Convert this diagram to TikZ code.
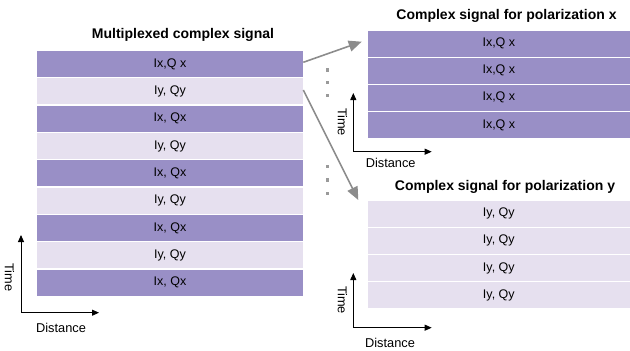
\documentclass[tikz,border=0pt]{standalone}
\usepackage{fontspec}
\setmainfont{Liberation Sans}
\usetikzlibrary{arrows.meta}
\definecolor{dkp}{HTML}{998FC6}
\definecolor{ltp}{HTML}{E6E0EF}
\definecolor{arrg}{HTML}{8C8C8C}
\definecolor{dotg}{HTML}{9A9A9A}
\begin{document}
\begin{tikzpicture}[x=1pt,y=-1pt,
  rowbox/.style={minimum height=26pt, inner sep=0pt, font=\fontsize{12.5}{14}\selectfont},
  leftrow/.style={rowbox, minimum width=266.6pt},
  rightrow/.style={rowbox, minimum width=262.3pt},
  dk/.style={fill=dkp},
  lt/.style={fill=ltp},
  ttl/.style={font=\fontsize{14}{16}\selectfont\bfseries, inner sep=0pt},
  lbl/.style={font=\fontsize{12.8}{14}\selectfont, inner sep=0pt},
  axis/.style={line width=0.9pt, -{Triangle[length=7pt,width=6pt]}},
  bigarr/.style={arrg, line width=1.6pt, -{Triangle[length=13pt,width=11pt]}},
  sq/.style={fill=dotg, minimum size=3.2pt, inner sep=0pt}
]
\useasboundingbox (0,0) rectangle (630,351);
% title left
\node[ttl] (tl) at (183,35) {Multiplexed complex signal};
% left stack
\foreach \i/\t/\s in {1/{Ix,Q x}/dk,2/{Iy, Qy}/lt,3/{Ix, Qx}/dk,4/{Iy, Qy}/lt,5/{Ix, Qx}/dk,6/{Iy, Qy}/lt,7/{Ix, Qx}/dk,8/{Iy, Qy}/lt,9/{Ix, Qx}/dk}{
  \node[leftrow,\s] (l\i) at (170,{64+(\i-1)*27.35}) {\t};
}
% right x stack
\node[ttl] (tx) at (506.5,16) {Complex signal for polarization x};
\foreach \i in {1,...,4}{
  \node[rightrow,dk] (x\i) at (498.85,{43.6+(\i-1)*27.1}) {Ix,Q x};
}
% right y stack
\node[ttl] (ty) at (505,187.3) {Complex signal for polarization y};
\foreach \i in {1,...,4}{
  \node[rightrow,lt] (y\i) at (498.85,{213.8+(\i-1)*27.1}) {Iy, Qy};
}
% big arrows
\coordinate (a1s) at (303.3,62.3);
\coordinate (a1e) at (361.7,41.7);
\coordinate (a2s) at (303.3,90);
\coordinate (a2e) at (358.3,200);
\draw[bigarr] (a1s) -- (a1e);
\draw[bigarr] (a2s) -- (a2e);
% dots
\foreach \j/\yy in {1/70,2/82.3,3/95.7,4/166.7,5/180,6/193.3}{
  \node[sq] (d\j) at (327.3,\yy) {};
}
% axes left
\coordinate (o1) at (21,312.7);
\coordinate (t1) at (21,235);
\coordinate (h1) at (99,312.7);
\draw[axis] (o1) -- (t1);
\draw[axis] (o1) -- (h1);
\node[lbl, rotate=-90] (time1) at (9.5,277.5) {Time};
\node[lbl] (dist1) at (61,328) {Distance};
% axes x
\coordinate (o2) at (353.3,151.7);
\coordinate (t2) at (353.3,93);
\coordinate (h2) at (431.7,151.7);
\draw[axis] (o2) -- (t2);
\draw[axis] (o2) -- (h2);
\node[lbl, rotate=-90] (time2) at (342.5,122) {Time};
\node[lbl] (dist2) at (390.7,163) {Distance};
% axes y
\coordinate (o3) at (353.3,327.7);
\coordinate (t3) at (353.3,273);
\coordinate (h3) at (431.7,327.7);
\draw[axis] (o3) -- (t3);
\draw[axis] (o3) -- (h3);
\node[lbl, rotate=-90] (time3) at (342.5,300) {Time};
\node[lbl] (dist3) at (390,342.7) {Distance};
\end{tikzpicture}
\end{document}
